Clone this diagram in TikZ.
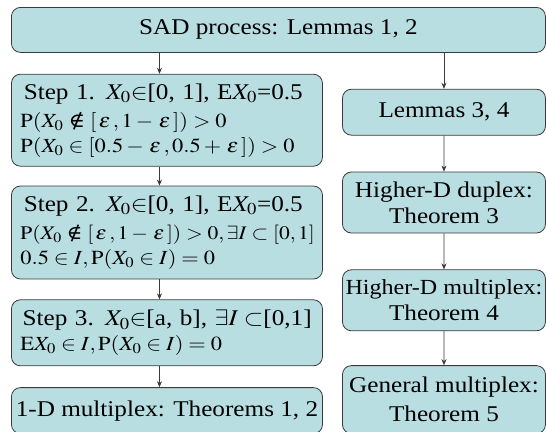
\documentclass[tikz,border=0pt]{standalone}
\usepackage{mathptmx}
\usepackage{fontspec}
\setmainfont{Liberation Serif}
\newfontfamily\symbfont{DejaVu Serif}
\usepackage{tikz}
\usetikzlibrary{positioning,arrows.meta}

\definecolor{boxfill}{HTML}{B9DEE2}
\definecolor{edgegray}{HTML}{3A3A3A}
\newcommand{\nin}{\mathrel{\hbox{\symbfont ∉}}}
\newcommand{\eps}{\mkern2mu\varepsilon\mkern2mu}

\begin{document}
\begin{tikzpicture}[
    box/.style={draw=edgegray, line width=0.8pt, fill=boxfill, rounded corners=9pt,
        xscale=1.12, inner ysep=0pt, font=\fontsize{22.5}{26}\selectfont},
    stepbox/.style={box, minimum width=277.7pt, inner xsep=8pt, text width=261.7pt,
        align=left, font=\fontsize{20}{25}\selectfont},
    resultbox/.style={box, minimum width=181.25pt, inner xsep=0pt, align=center},
    arrow/.style={-{Stealth[length=6pt,width=5pt]}, draw=edgegray, line width=0.7pt}
]
    \useasboundingbox (0,0) rectangle (546pt,-431pt);

    % Top
    \node[box, anchor=north west, minimum width=476.8pt, minimum height=45pt] (sad)
        at (11pt,-7pt) {SAD process: Lemmas 1, 2};

    % Left column: steps
    \node[stepbox, minimum height=92pt, below=21pt of sad.south west, anchor=north west] (step1)
        {{\fontsize{22.5}{25}\selectfont \hspace{3pt}Step 1. $X_0{\in}$[0, 1], E$X_0$=0.5}\\[3pt]
         \mbox{$\mathrm{P}(X_0 \nin [\eps,1-\eps]) > 0$}\\
         \mbox{$\mathrm{P}(X_0 \in [0.5-\eps,0.5+\eps]) > 0$}};
    \node[stepbox, minimum height=93pt, below=19pt of step1] (step2)
        {{\fontsize{22.5}{25}\selectfont \hspace{3pt}Step 2. $X_0{\in}$[0, 1], E$X_0$=0.5}\\[3pt]
         \mbox{\fontsize{19.2}{25}\selectfont $\mathrm{P}(X_0 \nin [\eps,1-\eps]) > 0, \exists I \subset [0,1]$}\\
         \mbox{$0.5 \in I, \mathrm{P}(X_0 \in I) = 0$}};
    \node[stepbox, minimum height=66pt, below=20pt of step2] (step3)
        {{\fontsize{22.5}{25}\selectfont \hspace{2pt}Step 3. $X_0{\in}$[a, b], $\exists I \subset$[0,1]}\\
         \mbox{$\mathrm{E}X_0 \in I, \mathrm{P}(X_0 \in I) = 0$}};
    \node[box, minimum width=277.7pt, minimum height=46pt, below=21pt of step3] (oned)
        {1-D multiplex: Theorems 1, 2};

    % Right column: higher dimensions
    \node[resultbox, minimum height=46pt, below=36pt of sad.south east, anchor=north east] (lemmas)
        {Lemmas 3, 4};
    \node[resultbox, minimum height=61pt, below=36pt of lemmas] (duplex)
        {Higher-D duplex:\\ Theorem 3};
    \node[resultbox, minimum height=61pt, below=36pt of duplex] (multi)
        {\makebox[170pt]{\fontsize{21.5}{26}\selectfont Higher-D multiplex:}\\ Theorem 4};
    \node[resultbox, minimum height=68pt, below=34pt of multi, font=\fontsize{22.5}{29}\selectfont] (general)
        {General multiplex:\\ Theorem 5};

    % Arrows
    \coordinate (lx) at ([xshift=-7.5pt]step1.north);
    \draw[arrow] (sad.south -| lx) -- (step1.north -| lx);
    \draw[arrow] (step1.south -| lx) -- (step2.north -| lx);
    \draw[arrow] (step2.south -| lx) -- (step3.north -| lx);
    \draw[arrow] (step3.south -| lx) -- (oned.north -| lx);
    \draw[arrow] (sad.south -| lemmas.north) -- (lemmas.north);
    \draw[arrow] (lemmas) -- (duplex);
    \draw[arrow] (duplex) -- (multi);
    \draw[arrow] (multi) -- (general);

\end{tikzpicture}
\end{document}
